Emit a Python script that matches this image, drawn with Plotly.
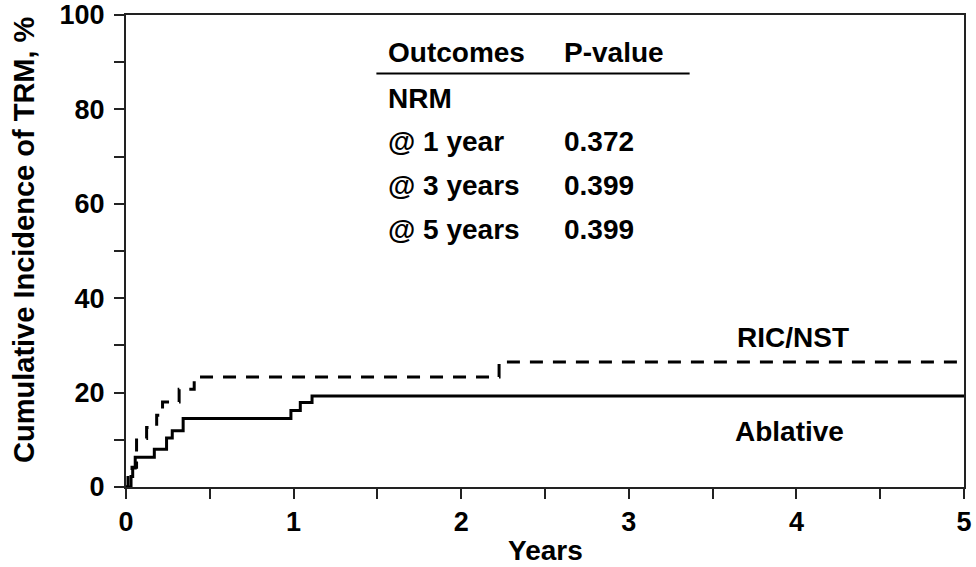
import plotly.graph_objects as go

# Data (years, cumulative incidence %)
ablative_t = [0, 0.030, 0.040, 0.055, 0.169, 0.242, 0.276, 0.341, 0.984, 1.040, 1.110, 5.0]
ablative_ci = [0, 2.2, 4.0, 6.3, 8.0, 10.4, 11.9, 14.5, 16.2, 17.9, 19.3, 19.3]

ric_t = [0, 0.012, 0.036, 0.063, 0.123, 0.183, 0.218, 0.317, 0.407, 2.226, 5.0]
ric_ci = [0, 2.7, 4.2, 10.3, 12.6, 15.2, 18.0, 20.7, 23.3, 26.5, 26.5]

x_ticks = [0, 1, 2, 3, 4, 5]
y_ticks = [0, 20, 40, 60, 80, 100]

table_header = ["Outcomes", "P-value"]
table_rows = ["NRM", "@ 1 year", "@ 3 years", "@ 5 years"]
table_pvals = ["", "0.372", "0.399", "0.399"]

FONT = "Liberation Sans, Arial, Helvetica, sans-serif"

fig = go.Figure()
fig.add_trace(go.Scatter(x=ablative_t, y=ablative_ci, mode="lines", line_shape="hv",
                         line=dict(color="black", width=3), name="Ablative",
                         showlegend=False, cliponaxis=False))
fig.add_trace(go.Scatter(x=ric_t, y=ric_ci, mode="lines", line_shape="hv",
                         line=dict(color="black", width=3, dash="13px,10px"),
                         name="RIC/NST", showlegend=False))

annots = []
# table
row_y = [82.4, 73.3, 63.9, 54.6]
annots.append(dict(x=1.553, y=92.1, text=table_header[0], xanchor="left", yanchor="middle", showarrow=False))
annots.append(dict(x=2.601, y=92.1, text=table_header[1], xanchor="left", yanchor="middle", showarrow=False))
for lab, pv, yy in zip(table_rows, table_pvals, row_y):
    annots.append(dict(x=1.553, y=yy, text=lab, xanchor="left", yanchor="middle", showarrow=False))
    if pv:
        annots.append(dict(x=2.601, y=yy, text=pv, xanchor="left", yanchor="middle", showarrow=False))
# curve labels
annots.append(dict(x=3.98, y=31.6, text="RIC/NST", xanchor="center", yanchor="middle", showarrow=False))
annots.append(dict(x=3.96, y=11.7, text="Ablative", xanchor="center", yanchor="middle", showarrow=False))
for a in annots:
    a.update(xref="x", yref="y", font=dict(family=FONT, size=28, color="black", weight="bold"))

# axis titles
annots.append(dict(xref="paper", yref="paper", x=0.5, y=-0.1355, yanchor="middle", xanchor="center",
                   text="Years", showarrow=False,
                   font=dict(family=FONT, size=28, color="black", weight="bold")))
annots.append(dict(xref="paper", yref="paper", x=-0.122, y=0.525, xanchor="center", yanchor="middle",
                   text="Cumulative Incidence of TRM, %", textangle=-90, showarrow=False,
                   font=dict(family=FONT, size=29, color="black", weight="bold")))

fig.update_layout(
    width=976, height=567,
    margin=dict(l=126, r=12, t=15, b=80, autoexpand=False),
    plot_bgcolor="white", paper_bgcolor="white",
    annotations=annots,
    shapes=[dict(type="line", xref="x", yref="y", x0=1.494, x1=3.363, y0=87.6, y1=87.6,
                 line=dict(color="black", width=2))],
)
fig.update_xaxes(range=[0, 5], tickvals=x_ticks, ticktext=[str(v) for v in x_ticks],
                 ticks="outside", ticklen=10, tickwidth=2, tickcolor="#222",
                 minor=dict(dtick=0.5, ticks="outside", ticklen=10, tickwidth=2, tickcolor="#222"),
                 showgrid=False, zeroline=False, showline=True, linecolor="#222", linewidth=2,
                 mirror=True, automargin=False, ticklabeloverflow="allow",
                 tickfont=dict(family=FONT, size=27, color="black", weight="bold"))
fig.update_yaxes(range=[0, 100], tickvals=y_ticks, ticktext=[str(v) for v in y_ticks],
                 ticks="outside", ticklen=10, tickwidth=2, tickcolor="#222",
                 minor=dict(dtick=10, ticks="outside", ticklen=10, tickwidth=2, tickcolor="#222"),
                 showgrid=False, zeroline=False, showline=True, linecolor="#222", linewidth=2,
                 mirror=True, automargin=False, ticklabelstandoff=4, ticklabeloverflow="allow",
                 tickfont=dict(family=FONT, size=27, color="black", weight="bold"))

fig.write_html("out.html")
